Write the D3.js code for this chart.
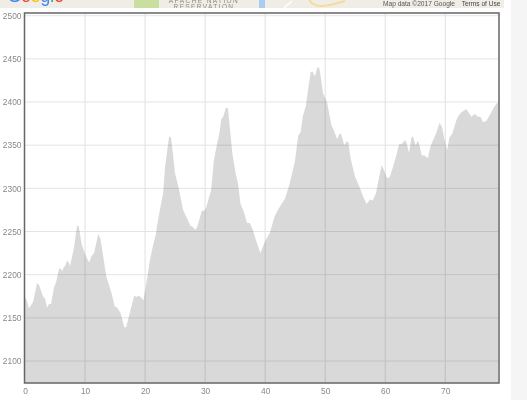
<!DOCTYPE html>
<html><head><meta charset="utf-8">
<script src="https://cdn.jsdelivr.net/npm/d3@7"></script>
<style>html,body{margin:0;padding:0;background:#fff;overflow:hidden}svg{display:block;filter:blur(.3px)}text{font-family:"Liberation Sans",Arial,sans-serif}</style>
</head><body><svg id="c" width="527" height="400"></svg>
<script>
const distance = [0,.2,.67,1.33,2,2.33,3,3.33,3.67,4,4.33,4.83,5.2,5.67,6,6.2,6.45,6.7,7,7.2,7.5,8.1,8.67,8.95,9.45,10,10.67,11.1,11.5,12.2,12.55,13.55,14.4,14.95,15.33,15.9,16.55,16.85,17.45,18.2,18.55,18.9,19.4,19.7,20.05,20.8,21.33,21.8,22,22.55,23,23.33,24,24.33,24.67,25,25.55,26.33,27,27.55,28,28.33,28.67,29.45,29.9,30.2,30.67,31,31.45,32,32.45,32.67,33,33.45,33.8,34.1,34.55,35.1,35.5,35.9,36.45,37,37.45,37.9,38.55,39.2,39.95,40.8,41.6,42.45,43.3,44.1,44.95,45.5,45.9,46.3,46.8,47.2,47.6,47.9,48.3,48.7,49,49.35,49.65,50.3,51.05,51.45,52,52.35,52.65,53.2,53.55,53.85,54.2,54.95,55.8,56.35,56.9,57.45,57.9,58.45,58.9,59.4,59.8,60.3,60.75,61.3,61.85,62.3,62.85,63.3,63.6,63.95,64.4,64.7,65.05,65.45,65.7,66.1,66.55,67.1,67.5,67.85,68.5,69.05,69.45,69.9,70.3,70.7,71.15,71.85,72.1,72.65,73.5,74.35,74.9,75.45,75.85,76.3,76.85,77.65,78.2,78.8];
const elevation = [2173,2172,2161,2168,2190,2188,2175,2172,2162,2166,2166,2185,2192,2207,2207,2204,2209,2210,2216,2215,2210,2229,2257,2256,2235,2224,2214,2222,2225,2247,2242,2198,2179,2163,2162,2156,2139,2139,2156,2176,2174,2176,2173,2170,2183,2217,2234,2247,2257,2278,2294,2325,2360,2359,2338,2317,2302,2275,2265,2257,2255,2252,2255,2274,2274,2278,2290,2298,2332,2352,2367,2380,2383,2393,2393,2371,2340,2317,2305,2282,2273,2260,2260,2253,2238,2225,2238,2249,2268,2279,2288,2306,2331,2361,2365,2384,2396,2417,2435,2435,2430,2440,2440,2425,2410,2400,2373,2367,2357,2363,2363,2350,2354,2354,2336,2314,2300,2290,2282,2287,2286,2294,2310,2327,2321,2312,2313,2325,2338,2351,2352,2356,2352,2341,2360,2359,2350,2355,2350,2338,2338,2335,2348,2354,2364,2376,2371,2356,2344,2359,2363,2379,2383,2388,2392,2383,2386,2383,2383,2377,2378,2388,2395,2400];
const xTicks = [0,10,20,30,40,50,60,70];
const yTicks = [2100,2150,2200,2250,2300,2350,2400,2450,2500];
const mapCredit = "Map data ©2017 Google";
const mapTerms = "Terms of Use";
const mapLabel = ["APACHE NATION","RESERVATION"];
const googleLetters = [["G","#4285f4"],["o","#ea4335"],["o","#fbbc05"],["g","#4285f4"],["l","#34a853"],["e","#ea4335"]];

const svg = d3.select("#c");
const L=24.5,R=499,T=13,B=383;
const x = d3.scaleLinear().domain([0,78.95]).range([L+.5,R]);
const y = d3.scaleLinear().domain([2100,2500]).range([361,15.7]);

// sidebar and map strip
svg.append("rect").attr("x",511).attr("y",0).attr("width",16).attr("height",400).attr("fill","#f5f5f5");
svg.append("clipPath").attr("id","strip").append("rect").attr("x",0).attr("y",0).attr("width",504).attr("height",8);
const map = svg.append("g").attr("clip-path","url(#strip)");
map.append("rect").attr("x",0).attr("y",0).attr("width",504).attr("height",8).attr("fill","#f0ede6");
map.append("rect").attr("x",134).attr("y",0).attr("width",25).attr("height",8).attr("fill","#c8df9f");
map.append("rect").attr("x",259).attr("y",0).attr("width",6).attr("height",8).attr("fill","#a9cdf2");
map.append("path").attr("d","M284,8 L292,1").attr("stroke","#fff").attr("stroke-width",1.5);
map.append("path").attr("d","M309,0 Q313,6 321,6 T345,1").attr("fill","none").attr("stroke","#f6dc9b").attr("stroke-width",2);
const gt = map.append("text").attr("x",7.5).attr("y",1.5).attr("font-size",17.5);
gt.selectAll("tspan").data(googleLetters).join("tspan").attr("fill",d=>d[1]).text(d=>d[0]);
map.append("text").attr("x",204).attr("y",2.5).attr("text-anchor","middle").attr("font-size",6.5).attr("letter-spacing",1.4).attr("fill","#8f8a78").text(mapLabel[0]);
map.append("text").attr("x",204).attr("y",8.7).attr("text-anchor","middle").attr("font-size",6.5).attr("letter-spacing",1.4).attr("fill","#8f8a78").text(mapLabel[1]);
map.append("text").attr("x",383).attr("y",6.2).attr("font-size",6.6).attr("fill","#555").text(mapCredit);
map.append("text").attr("x",500.5).attr("y",6.2).attr("text-anchor","end").attr("font-size",6.6).attr("fill","#444").text(mapTerms);

// grid
svg.append("g").selectAll("line").data(xTicks.slice(1)).join("line")
  .attr("x1",d=>x(d)).attr("x2",d=>x(d)).attr("y1",T).attr("y2",B).attr("stroke","#e0e0e0").attr("stroke-width",1);
svg.append("g").selectAll("line").data(yTicks).join("line")
  .attr("x1",L).attr("x2",R).attr("y1",d=>y(d)).attr("y2",d=>y(d)).attr("stroke","#e4e4e4").attr("stroke-width",1);

// area
const area = d3.area().x((d,i)=>x(distance[i])).y0(B).y1(d=>y(d));
svg.append("path").datum(elevation).attr("d",area).attr("fill","#000").attr("fill-opacity",.15);

// frame
svg.append("rect").attr("x",L).attr("y",T).attr("width",R-L).attr("height",B-T).attr("fill","none").attr("stroke","#666").attr("stroke-width",1.5);

// tick labels via d3 axes
const ax = svg.append("g").attr("transform",`translate(0,${B})`).call(d3.axisBottom(x).tickValues(xTicks).tickSize(0).tickPadding(5));
const ay = svg.append("g").attr("transform",`translate(${L},0)`).call(d3.axisLeft(y).tickValues(yTicks).tickSize(0).tickPadding(3).tickFormat(d3.format("d")));
[ax,ay].forEach(a=>{a.select(".domain").remove();a.selectAll("text").attr("font-size",8.4).attr("fill","#888").style("font-family",'"Liberation Sans",Arial,sans-serif');});
</script></body></html>
